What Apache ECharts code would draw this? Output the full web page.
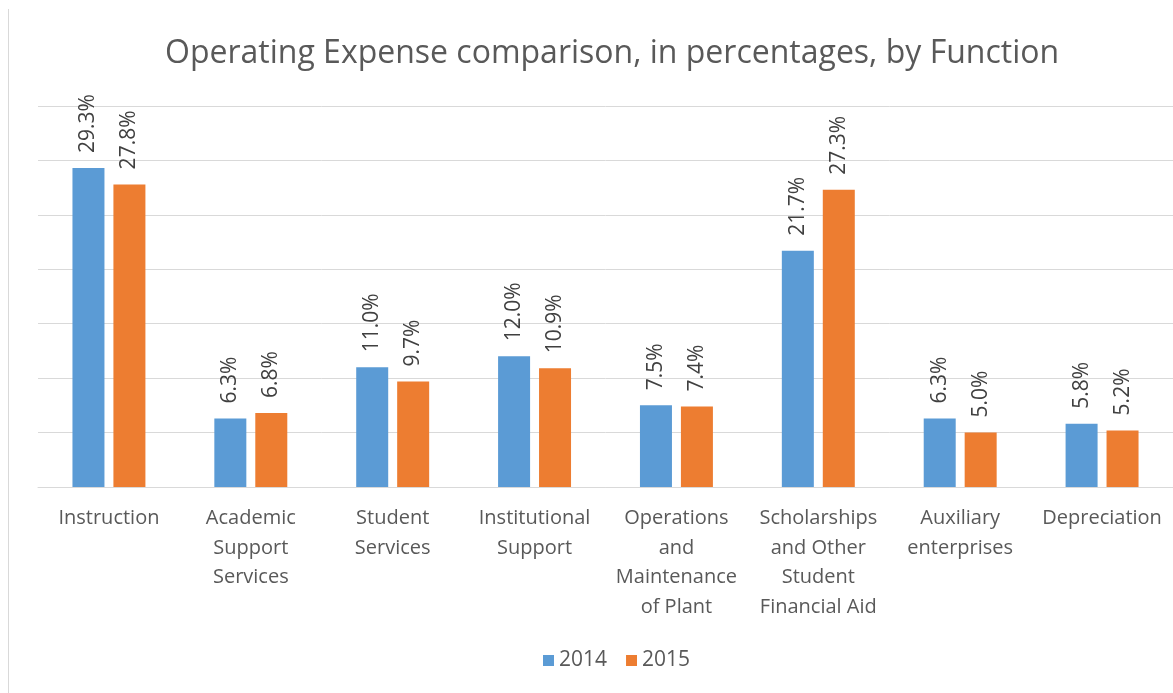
<!DOCTYPE html>
<html lang="en">
<head>
    <meta charset="UTF-8">
    <title>Operating Expense comparison</title>
    <style>
        * { padding: 0; margin: 0; }
        .EC { width: 1173px; height: 693px; background: #fff; }
    </style>
</head>
<body>
<div class="EC"></div>
<script src="https://cdn.jsdelivr.net/npm/echarts@6/dist/echarts.min.js"></script>
<script>
    // categories (line breaks as shown under the axis)
    const categories = [
        'Instruction',
        'Academic\nSupport\nServices',
        'Student\nServices',
        'Institutional\nSupport',
        'Operations\nand\nMaintenance\nof Plant',
        'Scholarships\nand Other\nStudent\nFinancial Aid',
        'Auxiliary\nenterprises',
        'Depreciation'
    ]
    const values2014 = [29.3, 6.3, 11.0, 12.0, 7.5, 21.7, 6.3, 5.8]
    const values2015 = [27.8, 6.8, 9.7, 10.9, 7.4, 27.3, 5.0, 5.2]

    const font = '"Open Sans", "Noto Sans", sans-serif'

    let EC = echarts.init(document.querySelector('.EC'))

    const labelStyle = {
        show: true,
        position: 'top',
        rotate: 90,
        align: 'left',
        verticalAlign: 'middle',
        distance: 15,
        color: '#404040',
        fontSize: 21,
        fontFamily: font,
        formatter: p => p.value.toFixed(1) + '%'
    }

    let option = {
        backgroundColor: '#fff',
        animation: false,
        title: {
            text: 'Operating Expense comparison, in percentages, by Function',
            left: 160,
            top: 33,
            textStyle: {
                color: '#595959',
                fontSize: 32,
                fontWeight: 'normal',
                fontFamily: font
            }
        },
        legend: {
            bottom: 17,
            left: 538,
            icon: 'rect',
            itemWidth: 11,
            itemHeight: 11,
            itemGap: 19,
            textStyle: { color: '#595959', fontSize: 21, fontFamily: font }
        },
        grid: {
            left: 38,
            top: 106,
            width: 1141,
            height: 381
        },
        xAxis: {
            type: 'category',
            data: categories,
            axisLine: { show: true, lineStyle: { color: '#D9D9D9' } },
            axisTick: { show: false },
            axisLabel: {
                interval: 0,
                margin: 17,
                color: '#595959',
                fontSize: 20,
                lineHeight: 29.5,
                fontFamily: font
            }
        },
        yAxis: {
            type: 'value',
            min: 0,
            max: 35,
            interval: 5,
            axisLabel: { show: false },
            axisLine: { show: false },
            axisTick: { show: false },
            splitLine: { lineStyle: { color: '#D9D9D9' } }
        },
        graphic: [{
            type: 'line',
            shape: { x1: 8.5, y1: 9, x2: 8.5, y2: 693 },
            style: { stroke: '#D9D9D9', lineWidth: 1 }
        }],
        series: [{
            name: '2014',
            type: 'bar',
            data: values2014,
            barWidth: 32,
            barGap: '28%',
            itemStyle: { color: '#5B9BD5' },
            label: labelStyle
        }, {
            name: '2015',
            type: 'bar',
            data: values2015,
            barWidth: 32,
            itemStyle: { color: '#ED7D31' },
            label: labelStyle
        }]
    }
    EC.setOption(option)
</script>
</body>
</html>
